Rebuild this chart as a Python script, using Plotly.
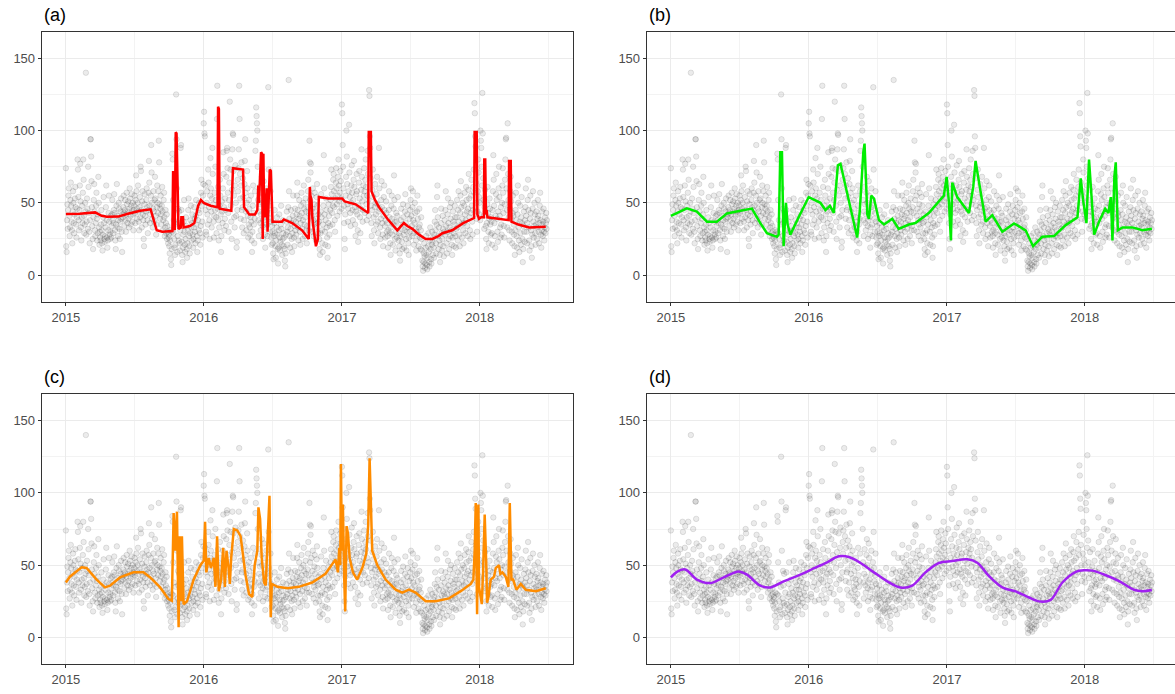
import pandas as pd
import plotly.graph_objects as go

# ---- daily observations, one sub-list per month (Jan..Dec) ----
obs_2015 = [
    [74, 20, 16, 38, 49, 32, 45, 55, 60, 41, 27, 33, 52, 64, 48, 37, 31, 22, 44, 58, 50, 36, 29, 42, 53, 61, 47, 35, 26, 40, 46],
    [80, 73, 54, 38, 31, 45, 62, 77, 51, 33, 24, 40, 48, 36, 57, 80, 66, 41, 29, 35, 50, 44, 140, 28, 37, 53, 46, 32],
    [75, 61, 43, 30, 22, 38, 94, 94, 82, 65, 47, 34, 25, 18, 40, 52, 63, 44, 31, 27, 36, 48, 57, 39, 24, 29, 42, 68, 50, 33, 21],
    [30, 26, 24, 35, 45, 31, 22, 17, 28, 40, 54, 36, 25, 23, 27, 33, 47, 62, 38, 26, 19, 24, 31, 43, 55, 37, 28, 25, 30, 41],
    [26, 34, 42, 52, 38, 29, 36, 45, 56, 43, 31, 24, 18, 35, 48, 63, 41, 33, 27, 38, 50, 46, 32, 25, 37, 44, 53, 39, 30, 16, 42],
    [40, 47, 55, 43, 34, 45, 52, 38, 30, 42, 57, 49, 36, 44, 51, 39, 33, 46, 60, 53, 41, 35, 48, 56, 44, 37, 50, 42, 31, 45],
    [48, 55, 43, 36, 52, 69, 58, 46, 39, 50, 62, 44, 37, 31, 47, 54, 40, 75, 72, 45, 33, 51, 58, 42, 38, 25, 20, 49, 56, 41, 35],
    [44, 52, 60, 47, 38, 29, 45, 57, 79, 64, 48, 36, 42, 55, 90, 71, 50, 39, 33, 46, 58, 44, 37, 52, 68, 53, 41, 28, 35, 47, 62],
    [50, 43, 58, 93, 78, 49, 39, 46, 55, 42, 35, 48, 61, 44, 31, 38, 52, 57, 40, 27, 33, 45, 36, 29, 42, 25, 34, 30, 22, 26],
    [28, 20, 15, 24, 31, 11, 7, 18, 30, 84, 80, 52, 29, 38, 25, 19, 14, 21, 35, 125, 94, 60, 16, 27, 46, 36, 24, 44, 22, 17, 31],
    [88, 90, 45, 23, 14, 9, 19, 28, 37, 52, 30, 21, 16, 25, 40, 34, 18, 12, 22, 31, 45, 53, 27, 20, 15, 29, 38, 48, 33, 24],
    [36, 42, 28, 19, 25, 33, 47, 39, 30, 22, 41, 52, 35, 27, 16, 24, 38, 45, 31, 50, 43, 29, 21, 34, 57, 66, 48, 37, 26, 55, 63],
]
obs_2016 = [
    [105, 113, 98, 96, 62, 45, 30, 28, 50, 58, 42, 35, 73, 64, 47, 38, 25, 55, 81, 60, 44, 33, 53, 88, 70, 49, 37, 26, 41, 57, 45],
    [75, 52, 40, 29, 108, 131, 46, 61, 38, 24, 33, 48, 66, 55, 42, 16, 27, 51, 44, 36, 60, 85, 70, 47, 31, 39, 53, 45, 34],
    [68, 86, 88, 74, 57, 43, 30, 52, 64, 120, 80, 73, 48, 37, 25, 59, 87, 98, 97, 72, 55, 40, 33, 62, 76, 50, 41, 19, 23, 45, 66],
    [58, 74, 87, 131, 108, 70, 53, 39, 62, 78, 45, 33, 47, 67, 54, 29, 38, 63, 79, 94, 57, 44, 31, 50, 72, 60, 41, 26, 35, 52],
    [46, 33, 28, 40, 55, 37, 24, 16, 30, 48, 62, 43, 35, 22, 39, 58, 86, 93, 116, 110, 105, 100, 75, 52, 38, 27, 44, 61, 49, 36, 31],
    [42, 57, 68, 50, 34, 25, 38, 65, 55, 40, 28, 19, 33, 47, 60, 44, 35, 27, 52, 130, 73, 48, 39, 30, 43, 58, 37, 26, 21, 34],
    [30, 22, 15, 11, 27, 36, 45, 29, 20, 12, 24, 33, 40, 28, 18, 8, 19, 31, 42, 26, 17, 23, 35, 48, 32, 21, 14, 25, 38, 29, 20],
    [26, 18, 10, 6, 15, 28, 37, 44, 30, 21, 33, 47, 135, 58, 39, 27, 19, 32, 45, 36, 25, 16, 29, 41, 55, 38, 26, 20, 34, 46, 31],
    [37, 28, 42, 55, 64, 45, 33, 24, 39, 52, 41, 30, 21, 36, 48, 57, 43, 32, 25, 38, 50, 62, 46, 35, 27, 40, 53, 44, 31, 22],
    [34, 47, 58, 66, 43, 31, 93, 78, 52, 71, 77, 55, 41, 30, 46, 60, 38, 27, 35, 49, 57, 44, 33, 24, 39, 54, 63, 48, 36, 29, 42],
    [37, 25, 18, 14, 29, 44, 56, 40, 31, 22, 16, 35, 48, 83, 60, 42, 30, 21, 38, 53, 45, 33, 26, 12, 20, 36, 49, 41, 28, 34],
    [45, 52, 61, 73, 56, 43, 35, 48, 66, 70, 58, 47, 38, 30, 53, 64, 74, 60, 49, 41, 55, 68, 80, 62, 51, 44, 57, 72, 65, 53, 46],
]
obs_2017 = [
    [118, 112, 90, 75, 60, 48, 36, 25, 18, 42, 55, 68, 100, 82, 63, 49, 37, 46, 58, 104, 71, 54, 43, 34, 50, 62, 76, 57, 45, 38, 52],
    [66, 79, 61, 47, 35, 27, 44, 56, 70, 58, 42, 31, 23, 48, 64, 72, 53, 40, 29, 46, 59, 87, 68, 51, 37, 45, 62, 55],
    [74, 58, 43, 66, 80, 61, 49, 38, 55, 86, 70, 52, 41, 128, 124, 96, 88, 67, 48, 36, 27, 45, 59, 73, 54, 40, 31, 22, 47, 63, 50],
    [42, 35, 56, 68, 49, 37, 29, 44, 88, 60, 46, 33, 25, 39, 52, 65, 47, 36, 28, 20, 41, 54, 62, 45, 34, 26, 38, 51, 43, 30],
    [36, 27, 19, 31, 45, 58, 40, 29, 22, 14, 33, 48, 55, 39, 28, 21, 35, 46, 69, 52, 37, 25, 17, 30, 43, 37, 26, 41, 54, 33, 24],
    [29, 20, 15, 10, 27, 38, 46, 32, 23, 18, 35, 49, 40, 28, 19, 31, 44, 56, 36, 25, 17, 30, 42, 48, 33, 22, 14, 26, 39, 30],
    [45, 52, 60, 41, 34, 27, 47, 58, 38, 29, 21, 36, 50, 43, 32, 24, 17, 30, 44, 55, 39, 28, 20, 33, 46, 35, 26, 18, 31, 40, 25],
    [17, 10, 6, 3, 9, 15, 22, 13, 5, 8, 19, 27, 14, 7, 4, 12, 20, 29, 16, 9, 6, 24, 33, 18, 11, 8, 21, 30, 23, 14, 26],
    [19, 12, 28, 37, 45, 31, 22, 15, 35, 54, 62, 40, 27, 18, 33, 24, 14, 9, 21, 36, 46, 29, 17, 25, 41, 32, 20, 13, 30, 38],
    [28, 45, 58, 34, 22, 15, 30, 42, 53, 36, 25, 18, 33, 47, 27, 39, 50, 31, 21, 14, 26, 44, 37, 29, 20, 35, 48, 40, 27, 19, 32],
    [40, 52, 33, 24, 45, 58, 37, 28, 20, 43, 55, 65, 47, 35, 26, 39, 50, 31, 22, 36, 48, 57, 42, 29, 38, 61, 52, 44, 34, 27],
    [46, 59, 70, 53, 40, 31, 25, 43, 55, 66, 48, 37, 28, 45, 61, 73, 57, 119, 112, 96, 89, 64, 50, 39, 30, 44, 58, 80, 71, 54, 42],
]
obs_2018 = [
    [50, 38, 100, 93, 88, 75, 62, 126, 98, 67, 52, 41, 32, 47, 59, 44, 34, 25, 18, 36, 49, 61, 43, 30, 22, 39, 53, 46, 35, 28, 40],
    [37, 29, 21, 45, 58, 83, 66, 48, 36, 27, 19, 41, 56, 70, 52, 39, 30, 23, 44, 60, 75, 54, 41, 33, 26, 47, 35, 28],
    [50, 62, 74, 57, 43, 34, 26, 49, 66, 80, 94, 95, 60, 45, 33, 105, 70, 52, 40, 31, 24, 46, 58, 68, 51, 39, 30, 22, 43, 55, 41],
    [35, 28, 20, 14, 31, 45, 57, 38, 27, 19, 42, 62, 50, 33, 24, 16, 37, 48, 29, 21, 40, 54, 36, 25, 9, 18, 34, 44, 30, 23],
    [38, 47, 60, 41, 30, 22, 36, 52, 66, 45, 33, 24, 17, 39, 55, 43, 31, 20, 12, 28, 46, 58, 37, 26, 34, 50, 42, 29, 21, 35, 44],
    [33, 25, 39, 52, 41, 30, 22, 36, 48, 57, 38, 28, 19, 31, 44, 35, 27, 37, 46, 30, 24, 33, 40, 29, 36, 43, 32, 38],
]

# ---- fitted curves: (decimal year, value) ----
fit_a_t = [2015.000, 2015.100, 2015.212, 2015.260, 2015.298, 2015.380, 2015.450, 2015.540, 2015.615, 2015.640,
           2015.659, 2015.700, 2015.773, 2015.778, 2015.784, 2015.790, 2015.797, 2015.803, 2015.810, 2015.817,
           2015.834, 2015.838, 2015.850, 2015.854, 2015.900, 2015.932, 2015.960, 2015.980, 2016.000, 2016.050,
           2016.100, 2016.104, 2016.110, 2016.115, 2016.200, 2016.208, 2016.212, 2016.285, 2016.292, 2016.330,
           2016.371, 2016.388, 2016.395, 2016.400, 2016.410, 2016.415, 2016.422, 2016.427, 2016.432, 2016.437,
           2016.445, 2016.456, 2016.462, 2016.470, 2016.478, 2016.486, 2016.493, 2016.498, 2016.566, 2016.580,
           2016.640, 2016.712, 2016.760, 2016.768, 2016.772, 2016.780, 2016.786, 2016.798, 2016.812, 2016.826,
           2016.833, 2016.900, 2016.960, 2017.002, 2017.020, 2017.100, 2017.191, 2017.195, 2017.210, 2017.215,
           2017.240, 2017.269, 2017.330, 2017.402, 2017.430, 2017.450, 2017.475, 2017.511, 2017.560, 2017.608,
           2017.656, 2017.700, 2017.729, 2017.800, 2017.880, 2017.959, 2017.963, 2017.978, 2017.983, 2017.995,
           2018.010, 2018.030, 2018.033, 2018.040, 2018.045, 2018.050, 2018.056, 2018.130, 2018.201, 2018.210,
           2018.213, 2018.225, 2018.230, 2018.280, 2018.358, 2018.420, 2018.479]
fit_a_v = [42.2, 42.5, 43.4, 41.0, 40.4, 40.5, 42.5, 44.5, 45.5, 38,
           31, 30, 30.5, 72, 40, 31, 98.8, 98, 66, 32,
           33, 40, 40, 33, 34, 36, 48, 52, 50, 48,
           47, 116.5, 115, 46, 44.5, 73, 74, 73, 47, 42,
           42, 45, 62, 50, 78, 85, 84, 25, 84, 45,
           40, 60, 30, 50, 73, 72, 40, 37, 37, 38.5,
           36, 31, 25, 61, 55, 52, 40, 30, 20, 25,
           54, 53, 53, 53, 51, 49, 43, 99, 99, 58,
           52, 47, 39, 31, 34, 36, 34, 32, 28, 25,
           25, 27, 29, 31, 36, 39.5, 99, 99, 42, 39,
           40, 40, 80, 80, 42, 45, 40, 39, 38, 38,
           79, 79, 37, 35, 33, 33, 33.5]

fit_b_t = [2015.000, 2015.116, 2015.189, 2015.262, 2015.334, 2015.407, 2015.504, 2015.588, 2015.649, 2015.697,
           2015.770, 2015.782, 2015.794, 2015.806, 2015.818, 2015.835, 2015.847, 2015.867, 2015.927, 2016.000,
           2016.085, 2016.121, 2016.153, 2016.182, 2016.211, 2016.230, 2016.351, 2016.370, 2016.395, 2016.404,
           2016.424, 2016.436, 2016.453, 2016.472, 2016.508, 2016.545, 2016.605, 2016.651, 2016.724, 2016.772,
           2016.869, 2016.978, 2016.998, 2017.015, 2017.029, 2017.039, 2017.075, 2017.160, 2017.191, 2017.208,
           2017.223, 2017.281, 2017.329, 2017.402, 2017.487, 2017.571, 2017.625, 2017.692, 2017.777, 2017.862,
           2017.947, 2017.971, 2017.988, 2018.012, 2018.031, 2018.051, 2018.068, 2018.104, 2018.148, 2018.172,
           2018.189, 2018.201, 2018.215, 2018.225, 2018.240, 2018.274, 2018.346, 2018.419, 2018.487]
fit_b_v = [41, 46.2, 44, 37, 37, 42.7, 44.5, 46, 36, 29,
           26.5, 28, 85, 85, 20, 50, 35, 28, 40, 54,
           50, 45, 48, 43, 76, 77, 26, 45, 85, 91,
           42, 39, 55, 53, 38, 35, 39, 32, 35, 36,
           43, 55, 68, 50, 24, 64, 54, 43, 61, 79,
           70, 37, 41.5, 30, 35.8, 31, 20, 26.5, 27, 34.6,
           40, 67, 52, 36, 80, 47, 28, 37, 46, 43,
           54, 24, 68, 78, 31, 33, 33, 31, 32]

fit_c_t = [2015.000, 2015.029, 2015.114, 2015.150, 2015.223, 2015.284, 2015.320, 2015.393, 2015.490, 2015.563,
           2015.612, 2015.684, 2015.745, 2015.769, 2015.782, 2015.794, 2015.806, 2015.818, 2015.825, 2015.835,
           2015.842, 2015.854, 2015.879, 2015.927, 2015.976, 2016.000, 2016.010, 2016.019, 2016.036, 2016.053,
           2016.073, 2016.085, 2016.097, 2016.109, 2016.126, 2016.141, 2016.153, 2016.165, 2016.180, 2016.189,
           2016.199, 2016.218, 2016.243, 2016.267, 2016.303, 2016.328, 2016.352, 2016.369, 2016.388, 2016.396,
           2016.408, 2016.420, 2016.437, 2016.449, 2016.461, 2016.476, 2016.485, 2016.493, 2016.534, 2016.607,
           2016.688, 2016.785, 2016.881, 2016.954, 2016.971, 2016.981, 2016.988, 2016.993, 2017.000, 2017.007,
           2017.017, 2017.024, 2017.034, 2017.044, 2017.056, 2017.080, 2017.111, 2017.148, 2017.177, 2017.191,
           2017.201, 2017.211, 2017.220, 2017.257, 2017.317, 2017.390, 2017.438, 2017.487, 2017.535, 2017.608,
           2017.680, 2017.777, 2017.862, 2017.935, 2017.954, 2017.964, 2017.971, 2017.981, 2017.990, 2017.995,
           2018.005, 2018.015, 2018.024, 2018.036, 2018.048, 2018.053, 2018.063, 2018.080, 2018.104, 2018.116,
           2018.140, 2018.150, 2018.165, 2018.189, 2018.208, 2018.218, 2018.230, 2018.242, 2018.266, 2018.298,
           2018.334, 2018.407, 2018.479]
fit_c_v = [38, 42, 48.5, 48, 40, 34.6, 35.8, 41.5, 45, 45,
           41.5, 34.6, 26.5, 25.4, 86, 60, 87, 7, 70, 25,
           70, 23, 25, 40, 50, 53, 80, 45, 55, 48,
           55, 35, 70, 32, 40, 62, 35, 60, 48, 37,
           55, 75, 74, 70, 43, 30, 28, 50, 60, 90,
           82, 55, 38, 36, 65, 98, 14, 37, 35, 34,
           35, 38, 44, 54, 45, 62, 50, 120, 60, 92,
           40, 18, 77, 72, 55, 45, 40, 48, 58, 78,
           124, 90, 60, 50, 40, 33, 31, 33, 31, 25,
           25, 27, 32, 37, 40, 62, 93, 16, 92, 35,
           30, 23, 45, 85, 48, 24, 28, 40, 42, 48,
           50, 44, 45, 42, 35, 93, 40, 40, 33, 37,
           33, 32, 34]

fit_d_t = [2015.000, 2015.044, 2015.104, 2015.189, 2015.286, 2015.383, 2015.492, 2015.552, 2015.649, 2015.722,
           2015.818, 2015.939, 2016.036, 2016.133, 2016.218, 2016.291, 2016.375, 2016.472, 2016.569, 2016.663,
           2016.748, 2016.845, 2016.942, 2017.039, 2017.148, 2017.220, 2017.305, 2017.402, 2017.499, 2017.596,
           2017.680, 2017.753, 2017.838, 2017.935, 2018.000, 2018.056, 2018.153, 2018.249, 2018.358, 2018.419,
           2018.487]
fit_d_v = [41.5, 45.4, 47, 40, 37.6, 41.5, 45.6, 43.4, 35.8, 34.6,
           38.8, 43.4, 47.7, 52, 56.1, 55.6, 51.5, 45, 38.8, 34.5,
           35.8, 45, 51.5, 52.8, 54, 51.6, 42.5, 34.6, 31.8, 27.6,
           24.8, 26, 38, 45.4, 46.5, 46.2, 43, 39, 33, 32,
           32.8]

panel_labels = ["(a)", "(b)", "(c)", "(d)"]
line_colors = ["#FF0000", "#00EE00", "#FF8C00", "#A020F0"]


def month_dates(year, months):
    xs, ys = [], []
    for m, vals in enumerate(months, start=1):
        xs.extend(pd.date_range(pd.Timestamp(year, m, 1), periods=len(vals), freq="D"))
        ys.extend(vals)
    return xs, ys


def to_dates(ts):
    out = []
    for t in ts:
        y = int(t)
        start = pd.Timestamp(y, 1, 1)
        ndays = (pd.Timestamp(y + 1, 1, 1) - start).days
        out.append(start + pd.Timedelta(days=(t - y) * ndays))
    return out


obs_x, obs_y = [], []
for yr, months in [(2015, obs_2015), (2016, obs_2016), (2017, obs_2017), (2018, obs_2018)]:
    xs, ys = month_dates(yr, months)
    obs_x += xs
    obs_y += ys

fits = [(fit_a_t, fit_a_v, "linear"), (fit_b_t, fit_b_v, "linear"),
        (fit_c_t, fit_c_v, "linear"), (fit_d_t, fit_d_v, "spline")]

W, H = 1175, 694
# plot-area pixel boxes: (left, right, top, bottom)
boxes = [(41.7, 573.0, 32.0, 302.0), (646.7, 1175.0, 32.0, 302.0),
         (41.7, 573.0, 394.3, 664.3), (646.7, 1175.0, 394.3, 664.3)]
x_ranges = [["2014-10-29", "2018-09-05"], ["2014-10-29", "2018-08-28"],
            ["2014-10-29", "2018-09-05"], ["2014-10-29", "2018-08-28"]]

fig = go.Figure()
axis_font = dict(family="Liberation Sans, Arial, sans-serif", size=13, color="#4D4D4D")
layout = dict(width=W, height=H, margin=dict(l=0, r=0, t=0, b=0),
              paper_bgcolor="white", plot_bgcolor="white", showlegend=False)
annotations = []

for i in range(4):
    n = "" if i == 0 else str(i + 1)
    xa, ya = "x" + n, "y" + n
    fig.add_trace(go.Scatter(x=obs_x, y=obs_y, mode="markers", xaxis=xa, yaxis=ya,
                             marker=dict(size=5.5, color="rgba(0,0,0,0.08)",
                                         line=dict(width=0.8, color="rgba(0,0,0,0.13)")),
                             hoverinfo="skip"))
    ft, fv, shape = fits[i]
    fig.add_trace(go.Scatter(x=to_dates(ft), y=fv, mode="lines", xaxis=xa, yaxis=ya,
                             line=dict(color=line_colors[i], width=2.5, shape=shape)))
    l, r, t, b = boxes[i]
    right_col = i in (1, 3)
    layout["xaxis" + n] = dict(
        domain=[l / W, r / W], anchor=ya, type="date", range=x_ranges[i],
        tick0="2015-01-01", dtick="M12", tickformat="%Y",
        showgrid=True, gridcolor="#EBEBEB", gridwidth=1,
        minor=dict(dtick="M6", showgrid=True, gridcolor="#F3F3F3", gridwidth=1),
        showline=True, linecolor="#333333", linewidth=1, mirror=True,
        ticks="outside", ticklen=3, tickcolor="#333333", tickwidth=1,
        tickfont=axis_font, zeroline=False)
    layout["yaxis" + n] = dict(
        domain=[1 - b / H, 1 - t / H], anchor=xa, range=[-18.6, 168.2],
        tick0=0, dtick=50,
        showgrid=True, gridcolor="#EBEBEB", gridwidth=1,
        minor=dict(dtick=25, showgrid=True, gridcolor="#F3F3F3", gridwidth=1),
        showline=True, linecolor="#333333", linewidth=1, mirror=not right_col,
        ticks="outside", ticklen=3, tickcolor="#333333", tickwidth=1,
        tickfont=axis_font, zeroline=False)
    annotations.append(dict(text=panel_labels[i], xref="paper", yref="paper",
                            x=l / W, y=1 - (t - 17) / H, xanchor="left", yanchor="middle",
                            showarrow=False,
                            font=dict(family="Liberation Sans, Arial, sans-serif", size=18, color="black")))

layout["annotations"] = annotations
fig.update_layout(**layout)
fig.write_html("out.html")
